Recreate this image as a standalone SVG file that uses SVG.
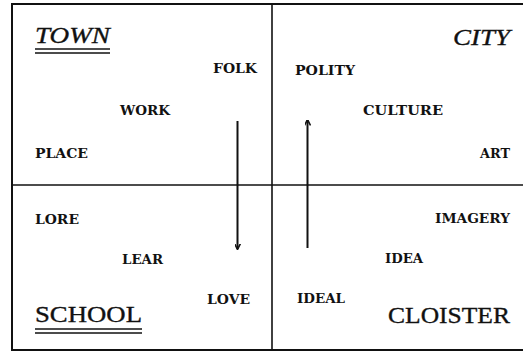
<svg xmlns="http://www.w3.org/2000/svg" width="525" height="352" viewBox="0 0 525 352">
<style>
.frame{stroke:#111;stroke-width:2;fill:none}
.div{stroke:#111;stroke-width:1.6;fill:none}
.arr{stroke:#111;stroke-width:2;fill:none}
.lbl{font-family:"DejaVu Serif","Liberation Serif",serif;font-weight:bold;font-size:12.5px;fill:#111}
.big{font-family:"Liberation Serif","Times New Roman",serif;font-size:24px;fill:#111;stroke:#111;stroke-width:0.35}
.it{font-style:italic}
.ul{stroke:#111;stroke-width:1.4}
</style>
<defs>
<marker id="head" viewBox="0 0 6 6" refX="5.5" refY="3" markerWidth="6" markerHeight="6" markerUnits="userSpaceOnUse" orient="auto">
<path d="M0,0 L6,3 L0,6" fill="none" stroke="#111" stroke-width="1.6"/>
</marker>
</defs>
<rect width="525" height="352" fill="#fff"/>
<g id="frame">
<line class="frame" x1="11" y1="4" x2="523" y2="4"/>
<line class="frame" x1="12" y1="3" x2="12" y2="351"/>
<line class="frame" x1="11" y1="350" x2="523" y2="350"/>
<line class="div" x1="272" y1="4" x2="272" y2="350"/>
<line class="div" x1="12" y1="185" x2="523" y2="185"/>
</g>
<g id="connectors">
<line class="arr" x1="237.5" y1="121" x2="237.5" y2="249" marker-end="url(#head)"/>
<line class="arr" x1="307.5" y1="248" x2="307.5" y2="120" marker-end="url(#head)"/>
</g>
<g id="town"><text class="big it" x="35" y="42.5" textLength="75" lengthAdjust="spacingAndGlyphs">TOWN</text>
<line class="ul" x1="35" y1="49" x2="110" y2="49"/><line class="ul" x1="35" y1="53" x2="110" y2="53"/></g>
<g id="city"><text class="big it" x="453" y="45" textLength="57" lengthAdjust="spacingAndGlyphs">CITY</text></g>
<g id="school"><text class="big" x="35" y="322" textLength="107" lengthAdjust="spacingAndGlyphs">SCHOOL</text>
<line class="ul" x1="35" y1="329" x2="142" y2="329"/><line class="ul" x1="35" y1="333" x2="142" y2="333"/></g>
<g id="cloister"><text class="big" x="388" y="323" textLength="122" lengthAdjust="spacingAndGlyphs">CLOISTER</text></g>
<g id="folk"><text class="lbl" x="213" y="73" textLength="44" lengthAdjust="spacingAndGlyphs">FOLK</text></g>
<g id="work"><text class="lbl" x="120" y="115" textLength="50" lengthAdjust="spacingAndGlyphs">WORK</text></g>
<g id="place"><text class="lbl" x="35" y="158" textLength="53" lengthAdjust="spacingAndGlyphs">PLACE</text></g>
<g id="polity"><text class="lbl" x="295" y="75" textLength="60" lengthAdjust="spacingAndGlyphs">POLITY</text></g>
<g id="culture"><text class="lbl" x="363" y="115" textLength="80" lengthAdjust="spacingAndGlyphs">CULTURE</text></g>
<g id="art"><text class="lbl" x="480" y="158" textLength="30" lengthAdjust="spacingAndGlyphs">ART</text></g>
<g id="lore"><text class="lbl" x="35" y="224" textLength="44" lengthAdjust="spacingAndGlyphs">LORE</text></g>
<g id="lear"><text class="lbl" x="122" y="264" textLength="41" lengthAdjust="spacingAndGlyphs">LEAR</text></g>
<g id="love"><text class="lbl" x="207" y="304" textLength="43" lengthAdjust="spacingAndGlyphs">LOVE</text></g>
<g id="imagery"><text class="lbl" x="435" y="223" textLength="75" lengthAdjust="spacingAndGlyphs">IMAGERY</text></g>
<g id="idea"><text class="lbl" x="385" y="263" textLength="38" lengthAdjust="spacingAndGlyphs">IDEA</text></g>
<g id="ideal"><text class="lbl" x="297" y="303" textLength="48" lengthAdjust="spacingAndGlyphs">IDEAL</text></g>
</svg>
